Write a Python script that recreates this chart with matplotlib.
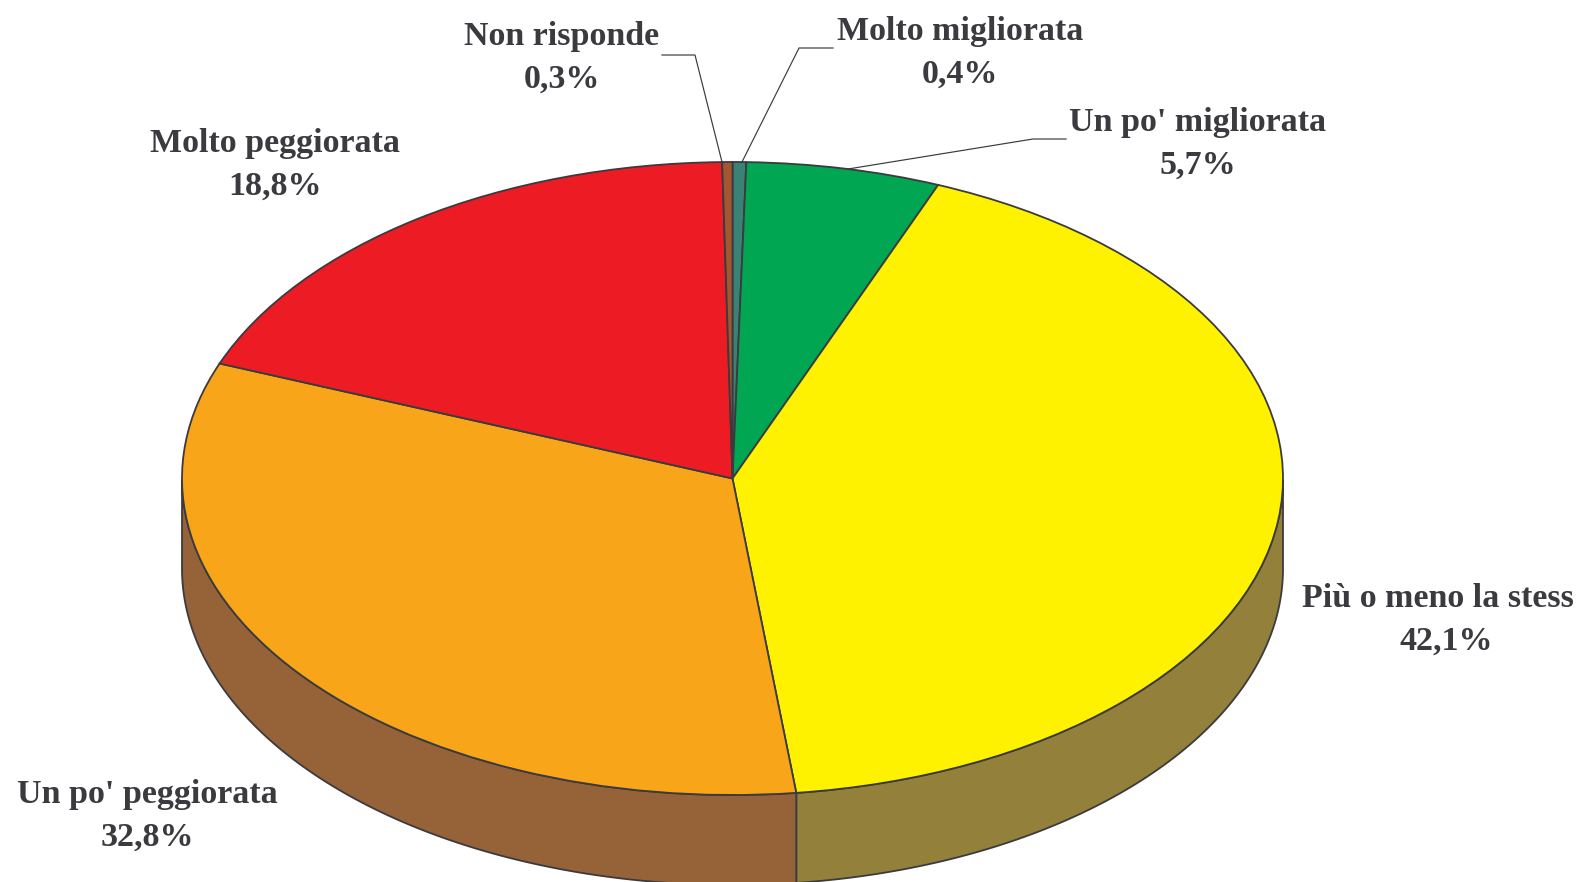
import numpy as np
import matplotlib
matplotlib.use("Agg")
import matplotlib.pyplot as plt
from matplotlib.transforms import Bbox, TransformedBbox, IdentityTransform

# Data, clockwise from twelve o'clock
categories = ["Molto migliorata", "Un po' migliorata", "Più o meno la stessa",
              "Un po' peggiorata", "Molto peggiorata", "Non risponde"]
values = [0.4, 5.7, 42.1, 32.8, 18.8, 0.3]
value_labels = ["0,4%", "5,7%", "42,1%", "32,8%", "18,8%", "0,3%"]

# Styles
top_colors = ["#3B8276", "#00A651", "#FFF200", "#F9A51A", "#ED1C24", "#A5552F"]
wall_colors = ["#1E4A42", "#00602F", "#93803A", "#956337", "#8A1015", "#5F3018"]
INK = "#3A3A3F"

W, H = 1581, 882
CX, CY, RX, RY = 732.5, 478.5, 550.5, 316.5
DEPTH = 90 / RY
TEXT_RIGHT_LIMIT = 1574

# Label centres in pixels from the top-left corner
label_px = [(960, 53), (1198, 144), (1446, 620), (147, 816), (275, 165), (562, 58)]
# Leader lines in pixels from the top-left corner
leaders_px = [
    [(833, 48), (799, 48), (742, 162)],
    [(1066, 139), (1033, 139), (848, 169)],
    [(662, 55), (695, 55), (722, 162)],
]

fig = plt.figure(figsize=(W / 100, H / 100), dpi=100, facecolor="white")
ax = fig.add_axes([0, 0, 1, 1])


def to_data(px, py):
    return (px - CX) / RX, (CY - py) / RY


# Side wall of the disc, drawn from the same values as the top
edges = 90 - 360 * np.concatenate([[0], np.cumsum(values)]) / np.sum(values)
for i, color in enumerate(wall_colors):
    t = np.radians(np.linspace(edges[i], edges[i + 1], 300))
    t = t[np.sin(t) <= 0]
    if t.size < 2:
        continue
    xs = np.concatenate([np.cos(t), np.cos(t[::-1])])
    ys = np.concatenate([np.sin(t), np.sin(t[::-1]) - DEPTH])
    ax.fill(xs, ys, facecolor=color, edgecolor=INK, linewidth=1.3, zorder=1, joinstyle="round")

# Top of the disc
wedges, _ = ax.pie(values, startangle=90, counterclock=False, colors=top_colors, radius=1,
                   wedgeprops=dict(edgecolor=INK, linewidth=1.3))
for w in wedges:
    w.set_zorder(2)

# Leader lines
for pts in leaders_px:
    xy = np.array([to_data(*p) for p in pts])
    ax.plot(xy[:, 0], xy[:, 1], color=INK, linewidth=0.85, zorder=3, solid_joinstyle="miter")

# Labels; the reference cuts the longest one just short of the right edge
clip_box = TransformedBbox(Bbox([[0, 0], [TEXT_RIGHT_LIMIT, H]]), IdentityTransform())
for name, val, (px, py) in zip(categories, value_labels, label_px):
    x, y = to_data(px, py)
    txt = ax.text(x, y, f"{name}\n{val}", ha="center", va="center", multialignment="center",
                  family="Liberation Serif", weight="bold", fontsize=24.5, color=INK,
                  linespacing=1.5, zorder=4)
    txt.set_clip_on(True)
    txt.set_clip_box(clip_box)

ax.set_aspect("auto")
ax.set_xlim(to_data(0, 0)[0], to_data(W, 0)[0])
ax.set_ylim(to_data(0, H)[1], to_data(0, 0)[1])
ax.axis("off")

fig.savefig("out.png", dpi=100, facecolor="white")
